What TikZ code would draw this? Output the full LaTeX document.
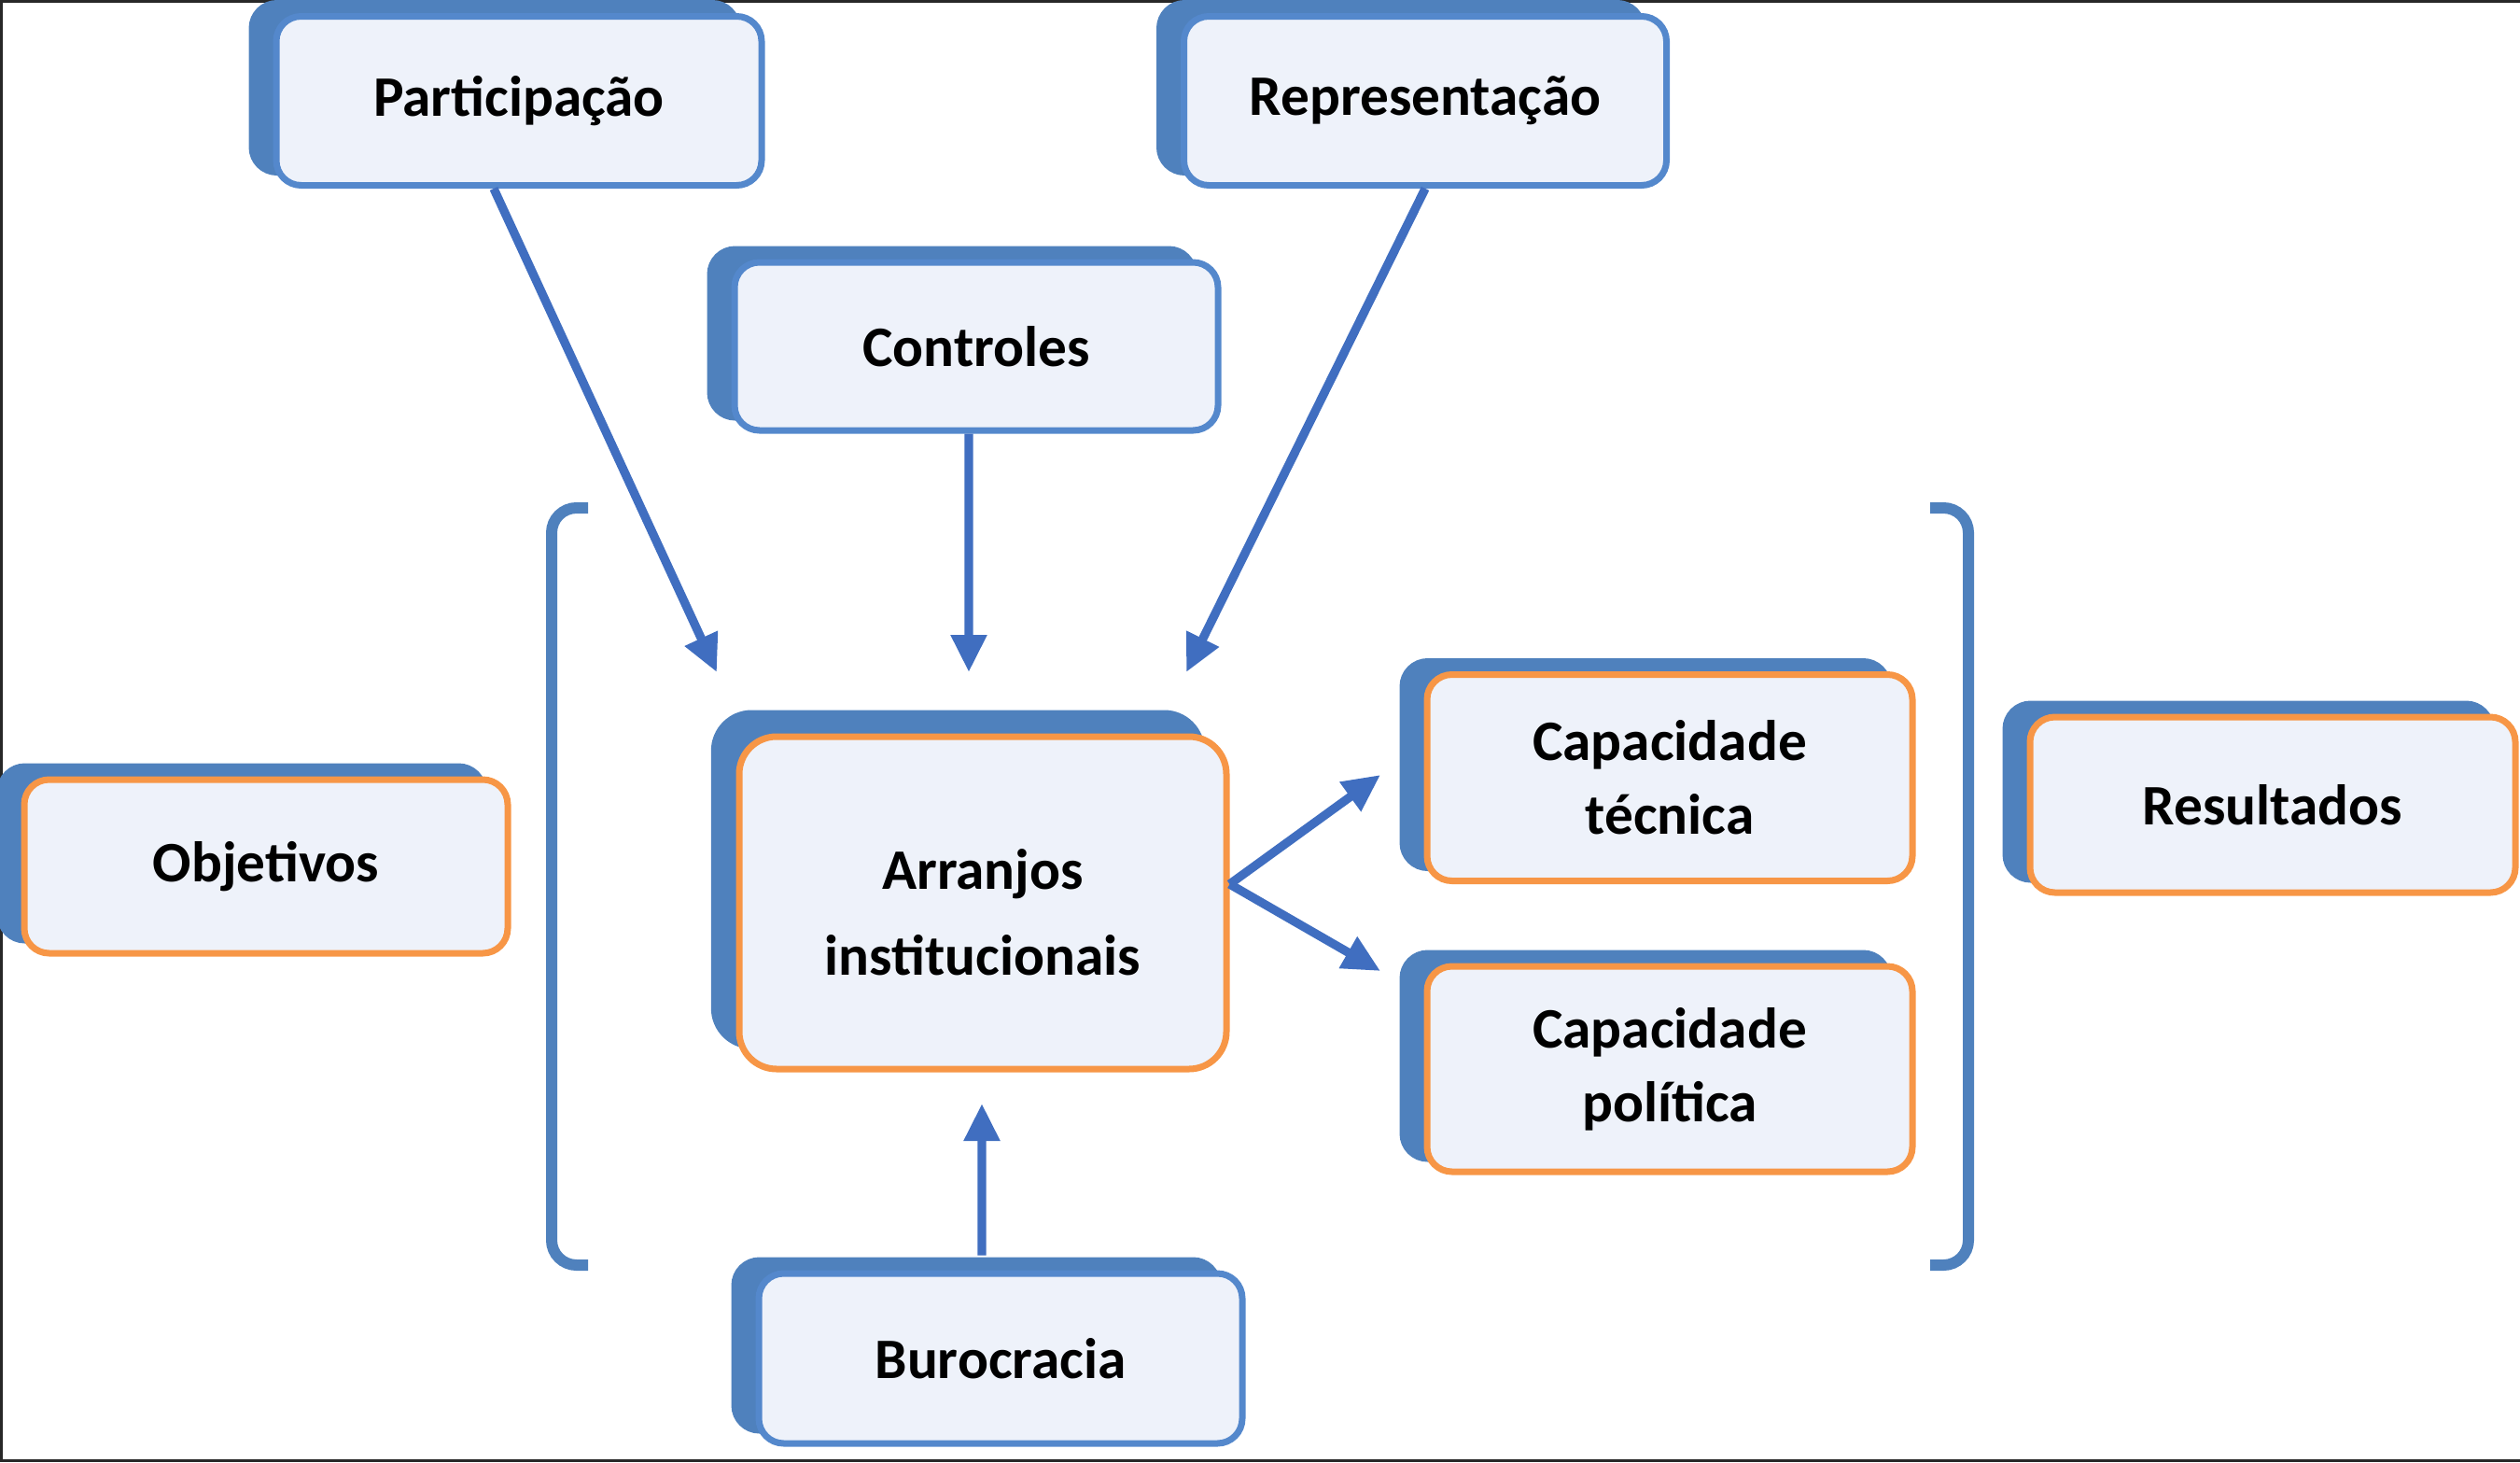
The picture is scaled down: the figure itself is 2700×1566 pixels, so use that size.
\documentclass[tikz,border=0pt]{standalone}
\usepackage{fontspec}
\setmainfont{Carlito}
\usetikzlibrary{shadows,arrows.meta}
\definecolor{boxblue}{RGB}{79,129,189}
\definecolor{edgeblue}{RGB}{84,136,204}
\definecolor{boxorange}{RGB}{247,150,70}
\definecolor{boxfill}{RGB}{238,242,250}
\definecolor{arrowblue}{RGB}{64,110,192}
\definecolor{framegray}{RGB}{40,40,40}
\begin{document}
\begin{tikzpicture}[x=0.3pt,y=-0.3pt,
  basebox/.style={rectangle, rounded corners=8pt, fill=boxfill, line width=2.1pt,
    align=center, font=\fontsize{18.4}{23.7}\selectfont\bfseries, text=black, inner sep=0pt},
  bluebox/.style={basebox, draw=edgeblue,
    general shadow={fill=boxblue, draw=boxblue, shadow xshift=-7.8pt, shadow yshift=4.2pt}},
  orangebox/.style={basebox, draw=boxorange,
    general shadow={fill=boxblue, draw=boxblue, shadow xshift=-7.8pt, shadow yshift=4.2pt}},
  bigbox/.style={basebox, draw=boxorange, rounded corners=12pt,
    font=\fontsize{18.4}{27.5}\selectfont\bfseries,
    general shadow={fill=boxblue, draw=boxblue, shadow xshift=-8pt, shadow yshift=7.5pt}},
  conn/.style={draw=arrowblue, line width=2.8pt, -{Triangle[length=12pt,width=11pt]}},
  bracket/.style={draw=boxblue, line width=3.6pt, rounded corners=8pt}]
\useasboundingbox (0,0) rectangle (2700,1566);
\draw[framegray, line width=1pt] (2700,1.5) -- (1.5,1.5) -- (1.5,1564.5) -- (2700,1564.5);

% brackets
\draw[bracket] (630,544) -- (591,544) -- (591,1355) -- (630,1355);
\draw[bracket] (2068,544) -- (2109,544) -- (2109,1355) -- (2068,1355);

% boxes
\node[bluebox, minimum width=156pt, minimum height=54.3pt] (part) at (556,108) {Participação};
\node[bluebox, minimum width=155.1pt, minimum height=54.3pt] (repr) at (1527,108) {Representação};
\node[bluebox, minimum width=155.4pt, minimum height=54pt] (ctrl) at (1046,371) {Controles};
\node[bigbox, minimum width=156.6pt, minimum height=106.8pt] (arr) at (1053,967) {\rule{0pt}{19pt}Arranjos\\institucionais};
\node[orangebox, minimum width=155.4pt, minimum height=55.8pt] (obj) at (285,928) {Objetivos};
\node[orangebox, minimum width=156pt, minimum height=66.3pt] (tec) at (1789,833) {Capacidade\\técnica};
\node[orangebox, minimum width=156pt, minimum height=66pt] (pol) at (1789,1145) {Capacidade\\política};
\node[orangebox, minimum width=156pt, minimum height=56.4pt] (res) at (2435,862) {Resultados};
\node[bluebox, minimum width=155.4pt, minimum height=54.6pt] (buro) at (1072,1455) {Burocracia};

% arrow tips
\coordinate (tpart) at (768,720);
\coordinate (tctrl) at (1038,720);
\coordinate (trepr) at (1271,720);
\coordinate (tburo) at (1052,1182);
\coordinate (ttec) at (1479,830);
\coordinate (tpol) at (1479,1040);

\draw[conn] ([xshift=-8.1pt]part.south) -- (tpart);
\draw[conn] ([xshift=-2.4pt]ctrl.south) -- (tctrl);
\draw[conn] (repr.south) -- (trepr);
\draw[conn] ([xshift=-6pt,yshift=4.8pt]buro.north) -- (tburo);
\draw[conn] ([yshift=6pt]arr.east) -- (ttec);
\draw[conn] ([yshift=6pt]arr.east) -- (tpol);
\end{tikzpicture}
\end{document}
